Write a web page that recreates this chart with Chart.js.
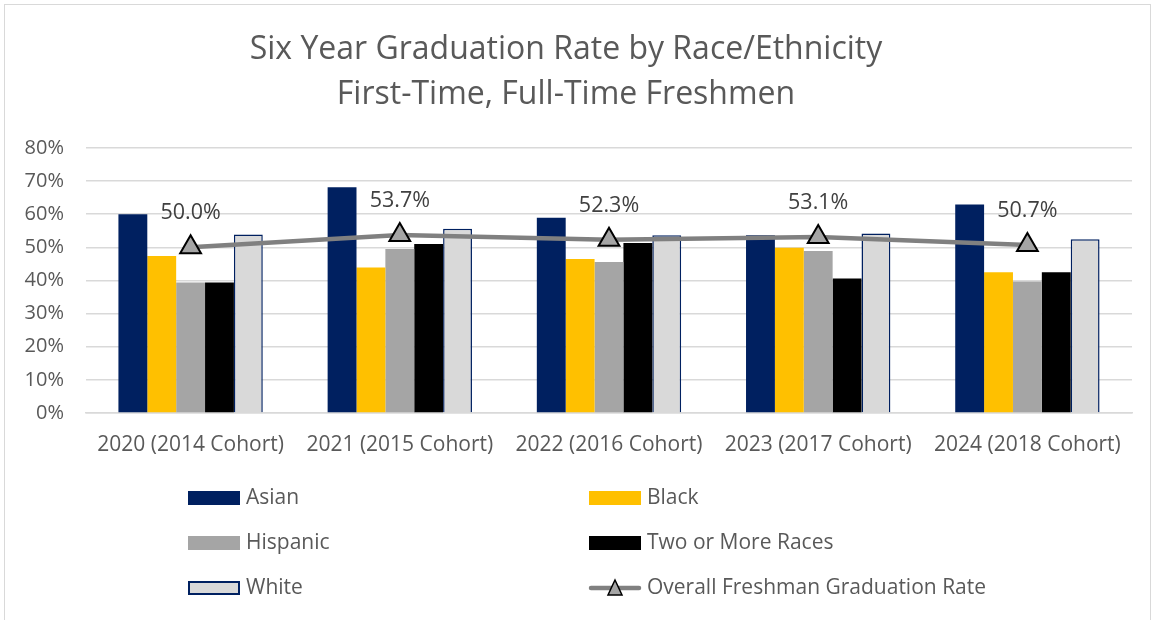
<!DOCTYPE html>
<html>
<head>
<meta charset="utf-8">
<script src="https://cdn.jsdelivr.net/npm/chart.js@4"></script>
<style>
  body { margin: 0; background: #fff; }
  #wrap { position: relative; width: 1154px; height: 620px; overflow: hidden; }
  #frame { position: absolute; left: 4px; top: 4px; width: 1145px; height: 640px; border: 1px solid #d9d9d9; }
  canvas { position: absolute; left: 0; top: 0; }
</style>
</head>
<body>
<div id="wrap">
  <div id="frame"></div>
  <canvas id="gradRate" width="1154" height="620"></canvas>
</div>
<script>
const years = ["2020 (2014 Cohort)", "2021 (2015 Cohort)", "2022 (2016 Cohort)", "2023 (2017 Cohort)", "2024 (2018 Cohort)"];

// graduation rates by group (percent)
const asian = [60.0, 68.1, 58.9, 53.6, 62.9];
const black = [47.4, 43.9, 46.5, 49.9, 42.5];
const hispanic = [39.4, 49.5, 45.6, 48.9, 39.7];
const twoOrMore = [39.4, 51.0, 51.3, 40.6, 42.5];
const white = [53.9, 55.6, 53.6, 54.2, 52.4];
const overall = [50.0, 53.7, 52.3, 53.1, 50.7];

const yTicks = [0, 10, 20, 30, 40, 50, 60, 70, 80];

const fontName = "'Open Sans', 'DejaVu Sans', sans-serif";
const textGrey = "#595959";

function barSet(label, values, fill, border) {
  return {
    type: 'bar',
    label: label,
    data: values,
    backgroundColor: fill,
    borderColor: border || fill,
    borderWidth: border ? 1.5 : 0,
    categoryPercentage: 0.69,
    barPercentage: 1.0,
    order: 1
  };
}

const data = {
  labels: years,
  datasets: [
    barSet("Asian", asian, "#002060"),
    barSet("Black", black, "#FFC000"),
    barSet("Hispanic", hispanic, "#A5A5A5"),
    barSet("Two or More Races", twoOrMore, "#000000"),
    barSet("White", white, "#D9D9D9", "#002060"),
    {
      type: 'line',
      label: "Overall Freshman Graduation Rate",
      data: overall,
      borderColor: "#808080",
      borderWidth: 4.5,
      pointStyle: 'triangle',
      pointRadius: 12,
      pointBackgroundColor: "#A5A5A5",
      pointBorderColor: "#000000",
      pointBorderWidth: 2,
      tension: 0,
      order: 0
    }
  ]
};

// labels above the overall line points
const pointLabels = {
  id: 'pointLabels',
  afterDatasetsDraw(chart) {
    const ctx = chart.ctx;
    const idx = chart.data.datasets.length - 1;
    const meta = chart.getDatasetMeta(idx);
    ctx.save();
    ctx.font = "21.5px " + fontName;
    ctx.fillStyle = "#404040";
    ctx.textAlign = 'center';
    ctx.textBaseline = 'middle';
    meta.data.forEach((pt, i) => {
      ctx.fillText(chart.data.datasets[idx].data[i].toFixed(1) + "%", pt.x, pt.y - 34);
    });
    ctx.restore();
  }
};

// two column legend under the axis
const gridLegend = {
  id: 'gridLegend',
  afterDraw(chart) {
    const ctx = chart.ctx;
    const colX = [188, 589];
    const rowY = chart.chartArea.bottom + 85;
    ctx.save();
    ctx.font = "21px " + fontName;
    ctx.textBaseline = 'middle';
    chart.data.datasets.forEach((ds, i) => {
      const x = colX[i % 2];
      const y = rowY + Math.floor(i / 2) * 45;
      if (ds.type === 'bar') {
        ctx.fillStyle = ds.backgroundColor;
        ctx.fillRect(x, y - 7, 52, 14);
        if (ds.borderWidth) {
          ctx.strokeStyle = ds.borderColor;
          ctx.lineWidth = 2;
          ctx.strokeRect(x + 1, y - 6, 50, 12);
        }
      } else {
        ctx.strokeStyle = ds.borderColor;
        ctx.lineWidth = 4.5;
        ctx.lineCap = 'round';
        ctx.beginPath();
        ctx.moveTo(x + 2, y);
        ctx.lineTo(x + 50, y);
        ctx.stroke();
        ctx.beginPath();
        ctx.moveTo(x + 26, y - 8);
        ctx.lineTo(x + 33, y + 7);
        ctx.lineTo(x + 19, y + 7);
        ctx.closePath();
        ctx.fillStyle = ds.pointBackgroundColor;
        ctx.fill();
        ctx.lineWidth = 1.5;
        ctx.strokeStyle = "#000";
        ctx.stroke();
      }
      ctx.fillStyle = textGrey;
      ctx.textAlign = 'left';
      ctx.fillText(ds.label, x + 58, y);
    });
    ctx.restore();
  }
};

const config = {
  type: 'bar',
  data,
  options: {
    responsive: false,
    animation: false,
    layout: { padding: { left: 0, right: 22, top: 0, bottom: 150 } },
    plugins: {
      legend: { display: false },
      tooltip: { enabled: false },
      title: {
        display: true,
        text: ["Six Year Graduation Rate by Race/Ethnicity", "First-Time, Full-Time Freshmen"],
        color: textGrey,
        font: { family: fontName, size: 32, weight: 'normal', lineHeight: 1.42 },
        padding: { top: 27, bottom: 30 }
      }
    },
    scales: {
      x: {
        grid: { display: false },
        border: { color: "#D9D9D9", width: 1.5 },
        ticks: { color: textGrey, font: { family: fontName, size: 21 }, padding: 11, maxRotation: 0 },
        afterFit(scale) { scale.height = 57; }
      },
      y: {
        min: 0,
        max: 80,
        afterBuildTicks(scale) { scale.ticks = yTicks.map(v => ({ value: v })); },
        grid: { color: "#D9D9D9", lineWidth: 1.5, drawTicks: false },
        border: { display: false },
        ticks: {
          color: textGrey,
          font: { family: fontName, size: 20 },
          padding: 22,
          callback: v => v + "%"
        },
        afterFit(scale) { scale.width = 86; }
      }
    }
  },
  plugins: [pointLabels, gridLegend]
};

const gradChart = new Chart(document.getElementById('gradRate'), config);
</script>
</body>
</html>
